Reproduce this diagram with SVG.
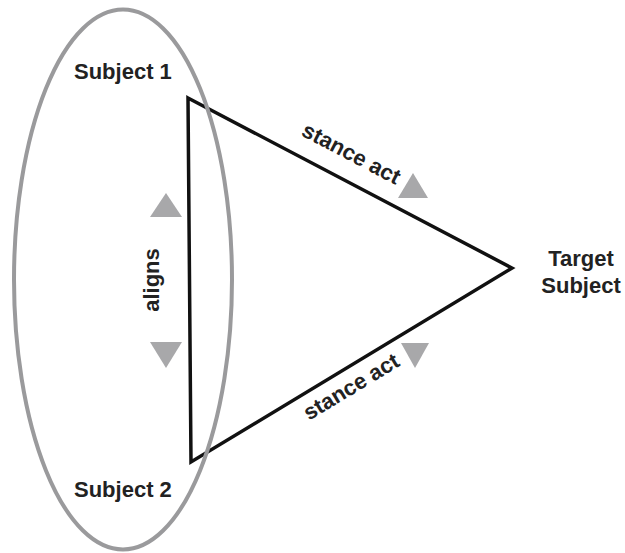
<svg xmlns="http://www.w3.org/2000/svg" width="625" height="553" viewBox="0 0 625 553">
<style>
.lbl{font-family:"Liberation Sans",Arial,sans-serif;font-weight:bold;font-size:22px;fill:#222;}
.mark{fill:#a8a8aa;}
</style>
<rect width="625" height="553" fill="#fff"/>
<g id="connectors">
<polygon points="188,98 512,268 191,462" fill="none" stroke="#111" stroke-width="3.5" stroke-linejoin="miter"/>
<polygon class="mark" points="166,193 150,217 182,217"/>
<polygon class="mark" points="150,342 182,342 166,368"/>
<polygon class="mark" points="413,173 398,198 428,198"/>
<polygon class="mark" points="401,343 429,343 415,368"/>
<text class="lbl" text-anchor="middle" transform="translate(159,280) rotate(-90)">aligns</text>
<text class="lbl" text-anchor="middle" transform="translate(348,160) rotate(27.7)">stance act</text>
<text class="lbl" text-anchor="middle" transform="translate(355,393) rotate(-31.1)">stance act</text>
</g>
<g id="group-ellipse">
<ellipse cx="123" cy="279.5" rx="109" ry="270" fill="none" stroke="#9a9a9c" stroke-width="4"/>
</g>
<g id="subject1"><text class="lbl" x="74" y="79">Subject 1</text></g>
<g id="subject2"><text class="lbl" x="74" y="497">Subject 2</text></g>
<g id="target"><text class="lbl" text-anchor="middle" x="581" y="266">Target</text><text class="lbl" text-anchor="middle" x="581" y="293">Subject</text></g>
</svg>
